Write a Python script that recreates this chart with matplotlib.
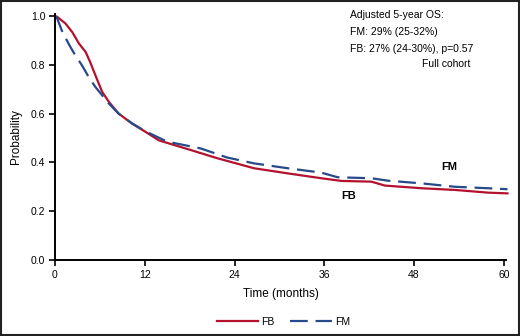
import matplotlib
matplotlib.use("Agg")
import matplotlib.pyplot as plt
from matplotlib.patches import Rectangle

# --- dados ---
months_fb = [0, 0.3, 1.4, 2.3, 3.2, 4.1, 4.7, 5.4, 6.3, 7.2, 8.5, 10.3, 12.1, 13.9,
             18.1, 21.7, 26.6, 31.1, 35.6, 38.3, 42.3, 44.1, 49, 53.5, 57.9, 60.5]
surv_fb = [1.0, 0.996, 0.969, 0.934, 0.887, 0.852, 0.811, 0.757, 0.689, 0.648, 0.6,
           0.559, 0.525, 0.49, 0.451, 0.417, 0.376, 0.355, 0.335, 0.324, 0.321, 0.305,
           0.294, 0.287, 0.276, 0.273]

months_fm = [0, 0.3, 0.9, 1.8, 2.7, 3.6, 4.5, 5.4, 6.3, 7.2, 8.5, 10.3, 12.1, 15,
             19.5, 23, 26.6, 31.1, 35.6, 37.8, 42.3, 44.5, 49, 53.5, 57.9, 60.5]
surv_fm = [1.0, 0.989, 0.941, 0.887, 0.839, 0.798, 0.75, 0.709, 0.675, 0.641, 0.6,
           0.56, 0.527, 0.485, 0.457, 0.42, 0.396, 0.376, 0.358, 0.339, 0.335, 0.325,
           0.314, 0.300, 0.294, 0.290]

x_ticks = [0, 12, 24, 36, 48, 60]
y_ticks = [0.0, 0.2, 0.4, 0.6, 0.8, 1.0]
notes = ["Adjusted 5-year OS:", "FM: 29% (25-32%)", "FB: 27% (24-30%), p=0.57"]

RED = "#B3112E"
BLUE = "#264A8A"

plt.rcParams["font.family"] = ["Liberation Sans", "DejaVu Sans"]

fig = plt.figure(figsize=(5.2, 3.36), dpi=100)
ax = fig.add_axes([55 / 520, 76 / 336, 451 / 520, 246.5 / 336])

ax.plot(months_fb, surv_fb, color=RED, lw=1.6, label="FB", clip_on=False)
ax.plot(months_fm, surv_fm, color=BLUE, lw=1.6, ls=(0, (8, 3.5)), label="FM", clip_on=False)

ax.set_xlim(0, 60.3)
ax.set_ylim(0, 1.01)
ax.set_xticks(x_ticks)
ax.set_yticks(y_ticks)
ax.set_yticklabels([f"{v:.1f}" for v in y_ticks])
for s in ["top", "right"]:
    ax.spines[s].set_visible(False)
for s in ["left", "bottom"]:
    ax.spines[s].set_linewidth(1.4)
ax.tick_params(direction="out", length=4, width=1.2, labelsize=7.5, pad=3)

ax.set_xlabel("Time (months)", fontsize=8.5, labelpad=6)
ax.set_ylabel("Probability", fontsize=8.5, labelpad=6)

ax.text(52.7, 0.38, "FM", fontsize=8, fontweight="bold", ha="center", va="center")
ax.text(39.3, 0.262, "FB", fontsize=8, fontweight="bold", ha="center", va="center")

# anotações no canto superior direito
for i, t in enumerate(notes):
    fig.text(350 / 520, 1 - (15 + 17 * i) / 336, t, fontsize=7.5, va="center", ha="left")
fig.text(422 / 520, 1 - 64 / 336, "Full cohort", fontsize=7.5, va="center", ha="left")

leg = fig.legend(loc="center", bbox_to_anchor=(0.545, 1 - 322 / 336), ncol=2, frameon=False,
                 fontsize=7.5, handlelength=4.0, columnspacing=1.5, handletextpad=0.3)

fig.patches.append(Rectangle((0.002, 0.003), 0.996, 0.994, transform=fig.transFigure,
                             fill=False, edgecolor="#222222", lw=1.5))

fig.savefig("out.png", dpi=100)
